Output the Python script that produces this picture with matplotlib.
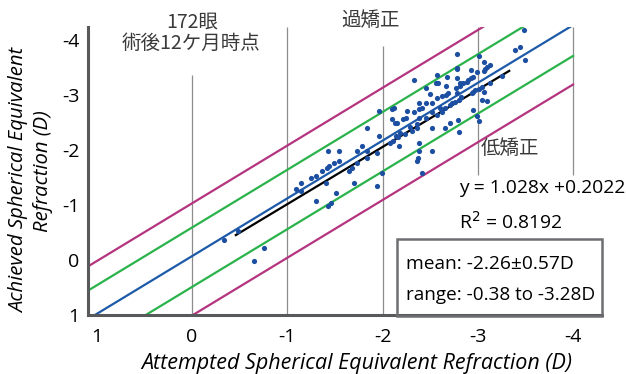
import matplotlib.pyplot as plt
from matplotlib.patches import Rectangle

plt.rcParams['font.family'] = ['Open Sans', 'Noto Sans CJK JP', 'DejaVu Sans']

# attempted / achieved spherical equivalent (D)
attempted = [-0.34, -0.48, -0.65, -0.76, -1.09, -1.14, -1.14, -1.25, -1.30, -1.30,
             -1.36, -1.41, -1.42, -1.44, -1.43, -1.43, -1.46, -1.49, -1.51, -1.54,
             -1.54, -1.65, -1.68, -1.70, -1.73, -1.73, -1.78, -1.84, -2.33, -2.57,
             -2.68, -2.78, -2.46, -2.56, -2.58, -2.67, -2.69, -2.67, -2.62, -2.57,
             -2.50, -2.78, -2.38, -2.46, -2.52, -2.41, -2.38, -2.33, -2.52, -2.60,
             -2.66, -2.71, -2.76, -2.80, -2.26, -2.12, -2.10, -1.96, -2.10, -2.13,
             -2.15, -2.22, -2.25, -2.38, -2.36, -2.29, -2.24, -2.18, -2.31, -2.36,
             -2.46, -2.57, -2.52, -2.66, -2.71, -2.79, -2.14, -2.16, -2.08, -2.11,
             -2.17, -2.38, -2.38, -2.52, -2.37, -2.36, -2.41, -1.99, -1.94, -1.84,
             -1.96, -1.94, -1.84, -3.48, -3.39, -3.44, -3.50, -2.78, -3.01, -3.06,
             -3.13, -3.10, -3.08, -3.06, -2.78, -2.93, -2.99, -2.78, -2.81, -2.95,
             -2.93, -2.90, -2.89, -2.85, -2.77, -2.81, -3.04, -3.06, -3.01, -3.13,
             -3.25, -2.97, -2.95, -2.94, -2.82, -2.73, -2.62, -3.04, -3.10, -2.95,
             -2.99, -3.01, -2.80]
achieved = [-0.36, -0.53, 0.02, -0.22, -1.29, -1.40, -1.25, -1.49, -1.53, -1.07,
            -1.62, -1.40, -1.67, -1.71, -1.98, -0.98, -1.04, -1.76, -1.22, -1.98,
            -1.80, -1.62, -1.67, -1.40, -1.98, -1.76, -2.07, -1.98, -3.27, -3.36,
            -3.33, -3.47, -3.13, -3.22, -3.22, -3.16, -3.04, -3.00, -2.98, -2.95,
            -3.02, -3.04, -2.85, -2.85, -2.85, -2.76, -2.75, -2.69, -2.69, -2.76,
            -2.76, -2.82, -2.87, -2.91, -2.71, -2.76, -2.75, -2.71, -2.56, -2.49,
            -2.49, -2.56, -2.58, -2.58, -2.47, -2.42, -2.29, -2.31, -2.35, -2.40,
            -2.58, -2.64, -2.40, -2.40, -2.49, -2.55, -2.25, -2.24, -2.13, -2.16,
            -2.07, -2.13, -1.98, -1.98, -1.85, -1.80, -1.58, -1.58, -1.35, -2.40,
            -2.25, -1.95, -1.85, -4.18, -3.82, -3.87, -3.64, -3.75, -3.71, -3.60,
            -3.55, -3.51, -3.47, -3.44, -3.49, -3.45, -3.42, -3.31, -3.22, -3.33,
            -3.31, -3.27, -3.24, -3.22, -3.13, -3.16, -3.15, -3.05, -3.11, -3.22,
            -3.35, -3.09, -3.05, -3.04, -2.96, -2.85, -2.69, -2.91, -2.89, -2.73,
            -2.62, -2.53, -2.33]

x_ticks = [1, 0, -1, -2, -3, -4]
y_ticks = [-4, -3, -2, -1, 0, 1]

# reference band lines (as drawn): y = slope*x + intercept + offset
ref_slope, ref_intercept = 1.05, -0.07
ref_offsets = [-0.96, -0.52, 0.0, 0.56, 1.08]
ref_colors = ['#b5347f', '#2bb34b', '#1d5aa8', '#2bb34b', '#b5347f']

# regression line as drawn
fit_slope, fit_intercept = 1.04, 0.025
fit_x = [-0.46, -3.33]

grid_x = [0, -1, -2, -3, -4]
grid_top = [-3.36, -4.24, -3.89, -4.24, -4.24]
grid_bottom = [1.0, 1.0, 1.0, -1.55, -1.55]

W, H = 626, 374


def fpos(x, y):
    return x / W, 1 - y / H


fig = plt.figure(figsize=(W / 100, H / 100), dpi=100)
ax = fig.add_axes([88 / W, 59 / H, 514 / W, 288 / H])
ax.set_xlim(1.092, -4.304)
ax.set_ylim(1.0, -4.236)

ax.vlines(grid_x, grid_top, grid_bottom, color='#8c8c8c', lw=0.9, zorder=1)

xs = [1.092, -4.0]
for off, c in zip(ref_offsets, ref_colors):
    ax.plot(xs, [ref_slope * x + ref_intercept + off for x in xs],
            color=c, lw=1.6, zorder=2)

ax.plot(fit_x, [fit_slope * x + fit_intercept for x in fit_x],
        color='black', lw=1.6, zorder=3)
ax.scatter(attempted, achieved, s=14, color='#1c4fa1', lw=0, zorder=4)

for side in ['top', 'right']:
    ax.spines[side].set_visible(False)
for side in ['left', 'bottom']:
    ax.spines[side].set_color('#58595b')
    ax.spines[side].set_linewidth(2.2)

ax.set_xticks(x_ticks)
ax.set_xticklabels([str(v) for v in x_ticks])
ax.set_yticks(y_ticks)
ax.set_yticklabels([str(v) for v in y_ticks])
ax.tick_params(axis='both', length=0, labelsize=14, colors='black')
ax.tick_params(axis='x', pad=9)
ax.tick_params(axis='y', pad=6)

# labels
fig.text(*fpos(357, 363), 'Attempted Spherical Equivalent Refraction (D)',
         ha='center', va='center', fontsize=15.5, style='italic')
fig.text(*fpos(19, 180), 'Achieved Spherical Equivalent', rotation=90,
         ha='center', va='center', fontsize=14.6, style='italic')
fig.text(*fpos(43, 171), 'Refraction (D)', rotation=90,
         ha='center', va='center', fontsize=14.6, style='italic')

jp = ['Noto Sans CJK JP', 'DejaVu Sans']
fig.text(*fpos(192, 22), '172眼', ha='center', va='center',
         fontsize=14, family=jp, color='#3a3a3a')
fig.text(*fpos(191, 43), '術後12ケ月時点', ha='center', va='center',
         fontsize=14, family=jp, color='#3a3a3a')
fig.text(*fpos(371, 21), '過矯正', ha='center', va='center',
         fontsize=14, family=jp, color='#3a3a3a')
fig.text(*fpos(510, 148), '低矯正', ha='center', va='center',
         fontsize=14, family=jp, color='#3a3a3a')

fig.text(*fpos(542, 188), 'y = 1.028x +0.2022', ha='center', va='center',
         fontsize=13.9)
fig.text(*fpos(511, 222), 'R$^2$ = 0.8192', ha='center', va='center',
         fontsize=13.9)

x0, y0 = fpos(397, 316)
x1, y1 = fpos(602, 239)
fig.patches.append(Rectangle((x0, y0), x1 - x0, y1 - y0, transform=fig.transFigure,
                             fill=False, edgecolor='#6d6e71', lw=1.8))
fig.text(*fpos(406, 264), 'mean: -2.26±0.57D', ha='left', va='center',
         fontsize=13.8)
fig.text(*fpos(406, 295), 'range: -0.38 to -3.28D', ha='left', va='center',
         fontsize=13.6)

fig.savefig('out.png', dpi=100, facecolor='white')
